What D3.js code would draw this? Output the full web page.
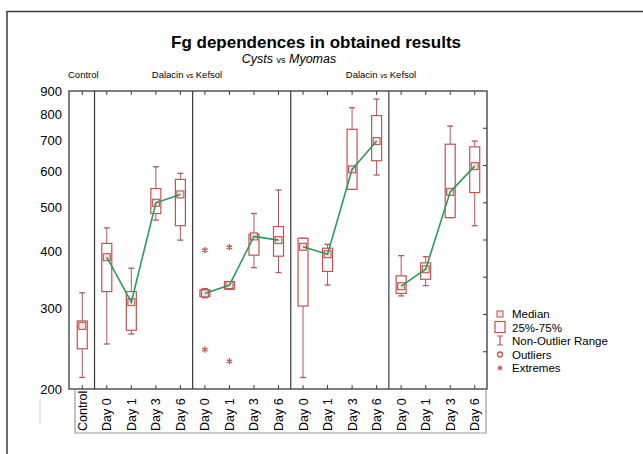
<!DOCTYPE html>
<html>
<head>
<meta charset="utf-8">
<script src="https://cdn.jsdelivr.net/npm/d3@7"></script>
<style>
  body { margin: 0; background: #fff; }
  svg { display: block; font-family: Arial, "Liberation Sans", sans-serif; }
</style>
</head>
<body>
<div id="chart"></div>
<script>
// ========================================
// DATA
// ========================================

const dayLabels = ["Control",
  "Day 0", "Day 1", "Day 3", "Day 6",
  "Day 0", "Day 1", "Day 3", "Day 6",
  "Day 0", "Day 1", "Day 3", "Day 6",
  "Day 0", "Day 1", "Day 3", "Day 6"];
const groupOf = [0, 1, 1, 1, 1, 2, 2, 2, 2, 3, 3, 3, 3, 4, 4, 4, 4];

const whiskerHigh = [325, 451, 368, 614, 594, 332, 344, 485, 546, 428, 415, 827, 864, 392, 390, 754, 699];
const q3Values    = [282, 417, 327, 550, 576, 330, 344, 437, 454, 428, 407, 742, 795, 354, 378, 688, 679];
const medians     = [275, 389, 310, 512, 534, 324, 338, 432, 424, 410, 395, 606, 699, 336, 366, 541, 616];
const q1Values    = [245, 327, 269, 485, 456, 319, 331, 393, 391, 304, 362, 548, 633, 324, 348, 475, 539];
const whiskerLow  = [212, 251, 264, 469, 424, 317, 331, 369, 360, 212, 338, 548, 589, 320, 337, 475, 456];

const extremeCats   = [5, 5, 6, 6];
const extremeValues = [403, 244, 409, 230];

const yTicks = [200, 300, 400, 500, 600, 700, 800, 900];
const legendItems = ["Median", "25%-75%", "Non-Outlier Range", "Outliers", "Extremes"];

// ========================================
// SETUP
// ========================================

const width = 643, height = 454;
const plot = { left: 69, right: 487, top: 91, bottom: 389 };
const boxColor = "#c0544e", whiskColor = "#b0566a", lineColor = "#2b9a5c", frameColor = "#3a3a3a";

let svg = d3.select("#chart")
  .append("svg")
  .attr("width", width)
  .attr("height", height);

let x = d3.scaleBand()
  .domain(d3.range(dayLabels.length))
  .range([plot.left + 1, plot.right]);

let y = d3.scaleLog()
  .domain([200, 900])
  .range([plot.bottom, plot.top]);

const cx = (i) => x(i) + x.bandwidth() / 2;

// outer page frame (top + left only)
svg.append("path")
  .attr("d", "M7,454V11.5H643")
  .attr("fill", "none")
  .attr("stroke", frameColor)
  .attr("stroke-width", 1.5);

// ========================================
// TITLES
// ========================================

svg.append("text")
  .attr("x", 316).attr("y", 48)
  .attr("text-anchor", "middle")
  .attr("font-size", 17)
  .attr("font-weight", "bold")
  .text("Fg dependences in obtained results");

let sub = svg.append("text")
  .attr("x", 289).attr("y", 63)
  .attr("text-anchor", "middle")
  .attr("font-size", 12.5)
  .attr("font-style", "italic");
sub.append("tspan").text("Cysts ");
sub.append("tspan").attr("font-size", 9).attr("font-style", "normal").text("vs");
sub.append("tspan").text(" Myomas");

svg.append("text")
  .attr("x", 68).attr("y", 78)
  .attr("font-size", 9.5)
  .text("Control");

[187, 381].forEach(function(c) {
  let t = svg.append("text")
    .attr("x", c).attr("y", 78)
    .attr("text-anchor", "middle")
    .attr("font-size", 9.5);
  t.append("tspan").text("Dalacin ");
  t.append("tspan").attr("font-size", 7).text("vs");
  t.append("tspan").text(" Kefsol");
});

// ========================================
// AXES AND FRAME
// ========================================

svg.append("rect")
  .attr("x", plot.left).attr("y", plot.top)
  .attr("width", plot.right - plot.left)
  .attr("height", plot.bottom - plot.top)
  .attr("fill", "none")
  .attr("stroke", frameColor)
  .attr("stroke-width", 1.3);

// group separators
let sepIdx = [1, 5, 9, 13];
svg.append("g").selectAll("line")
  .data(sepIdx)
  .enter().append("line")
  .attr("x1", (d) => x(d)).attr("x2", (d) => x(d))
  .attr("y1", plot.top).attr("y2", plot.bottom)
  .attr("stroke", frameColor)
  .attr("stroke-width", 1.2);

// y labels
svg.append("g").selectAll("text")
  .data(yTicks)
  .enter().append("text")
  .attr("x", 62)
  .attr("y", (d) => y(d))
  .attr("dy", "0.35em")
  .attr("text-anchor", "end")
  .attr("font-size", 13)
  .text((d) => d);

// right-hand inner ticks (equal divisions)
let rightTicks = d3.scaleLinear().domain([0, 8]).range([plot.bottom, plot.top]);
svg.append("g").selectAll("line")
  .data(d3.range(1, 8))
  .enter().append("line")
  .attr("x1", plot.right).attr("x2", plot.right - 4)
  .attr("y1", (d) => rightTicks(d)).attr("y2", (d) => rightTicks(d))
  .attr("stroke", frameColor);

// top and bottom category ticks
svg.append("g").selectAll("line")
  .data(d3.range(dayLabels.length))
  .enter().append("line")
  .attr("x1", cx).attr("x2", cx)
  .attr("y1", plot.top).attr("y2", plot.top + 4)
  .attr("stroke", frameColor);
svg.append("g").selectAll("line")
  .data(d3.range(dayLabels.length))
  .enter().append("line")
  .attr("x1", cx).attr("x2", cx)
  .attr("y1", plot.bottom).attr("y2", plot.bottom - 4)
  .attr("stroke", frameColor);

// category label box
svg.append("path")
  .attr("d", "M75," + plot.bottom + "V433H486V" + plot.bottom)
  .attr("fill", "none")
  .attr("stroke", "#9a9aa6")
  .attr("stroke-width", 1.2);
svg.append("line")
  .attr("x1", 40).attr("x2", 40).attr("y1", 399).attr("y2", 423)
  .attr("stroke", "#d0d0d0");

svg.append("g").selectAll("text")
  .data(dayLabels)
  .enter().append("text")
  .attr("transform", (d, i) => "translate(" + cx(i) + ",431) rotate(-90)")
  .attr("dy", "0.36em")
  .attr("font-size", 12.5)
  .text((d) => d);

// ========================================
// BOXES
// ========================================

const boxW = 10, capW = 6;
let boxes = svg.append("g").selectAll("g")
  .data(d3.range(dayLabels.length))
  .enter().append("g");

boxes.append("line")
  .attr("x1", cx).attr("x2", cx)
  .attr("y1", (i) => y(whiskerHigh[i])).attr("y2", (i) => y(q3Values[i]))
  .attr("stroke", whiskColor);
boxes.append("line")
  .attr("x1", cx).attr("x2", cx)
  .attr("y1", (i) => y(q1Values[i])).attr("y2", (i) => y(whiskerLow[i]))
  .attr("stroke", whiskColor);
[whiskerHigh, whiskerLow].forEach(function(arr) {
  boxes.append("line")
    .attr("x1", (i) => cx(i) - capW / 2).attr("x2", (i) => cx(i) + capW / 2)
    .attr("y1", (i) => y(arr[i])).attr("y2", (i) => y(arr[i]))
    .attr("stroke", whiskColor)
    .attr("stroke-width", 1.3);
});

boxes.append("rect")
  .attr("x", (i) => cx(i) - boxW / 2)
  .attr("y", (i) => y(q3Values[i]))
  .attr("width", boxW)
  .attr("height", (i) => Math.max(1, y(q1Values[i]) - y(q3Values[i])))
  .attr("fill", "#fff")
  .attr("stroke", boxColor)
  .attr("stroke-width", 1.2);

boxes.append("rect")
  .attr("x", (i) => cx(i) - 3.5)
  .attr("y", (i) => y(medians[i]) - 3.5)
  .attr("width", 7).attr("height", 7)
  .attr("fill", "#f3e4e0")
  .attr("stroke", boxColor)
  .attr("stroke-width", 1.1);

// extremes
svg.append("g").selectAll("path")
  .data(extremeValues)
  .enter().append("path")
  .attr("transform", (d, k) => "translate(" + cx(extremeCats[k]) + "," + y(d) + ")")
  .attr("d", d3.symbol().type(d3.symbolAsterisk).size(28))
  .attr("stroke", boxColor)
  .attr("stroke-width", 1.3);

// median lines per group
let lineGen = d3.line()
  .x((i) => cx(i))
  .y((i) => y(medians[i]));

svg.append("g").selectAll("path")
  .data([1, 2, 3, 4].map((g) => d3.range(dayLabels.length).filter((i) => groupOf[i] === g)))
  .enter().append("path")
  .attr("d", lineGen)
  .attr("fill", "none")
  .attr("stroke", lineColor)
  .attr("stroke-width", 1.6);

// ========================================
// LEGEND
// ========================================

const legX = 500, legY = [314, 327.5, 341, 354.5, 368];
let legend = svg.append("g");

legend.append("rect")
  .attr("x", legX - 3).attr("y", legY[0] - 3)
  .attr("width", 6).attr("height", 6)
  .attr("fill", "#f3e4e0").attr("stroke", boxColor);
legend.append("rect")
  .attr("x", legX - 5).attr("y", legY[1] - 6)
  .attr("width", 10).attr("height", 11)
  .attr("fill", "#fff").attr("stroke", boxColor).attr("stroke-width", 1.2);
legend.append("path")
  .attr("d", "M" + (legX - 3) + "," + (legY[2] - 5) + "H" + (legX + 3) +
    "M" + legX + "," + (legY[2] - 5) + "V" + (legY[2] + 4) +
    "M" + (legX - 3) + "," + (legY[2] + 4) + "H" + (legX + 3))
  .attr("fill", "none").attr("stroke", whiskColor).attr("stroke-width", 1.2);
legend.append("circle")
  .attr("cx", legX).attr("cy", legY[3]).attr("r", 2.5)
  .attr("fill", "#fff").attr("stroke", boxColor).attr("stroke-width", 1.3);
legend.append("path")
  .attr("transform", "translate(" + legX + "," + legY[4] + ")")
  .attr("d", d3.symbol().type(d3.symbolAsterisk).size(20))
  .attr("stroke", boxColor).attr("stroke-width", 1.2);

legend.selectAll("text")
  .data(legendItems)
  .enter().append("text")
  .attr("x", 512)
  .attr("y", (d, i) => legY[i])
  .attr("dy", "0.35em")
  .attr("font-size", 11.5)
  .text((d) => d);
</script>
</body>
</html>
